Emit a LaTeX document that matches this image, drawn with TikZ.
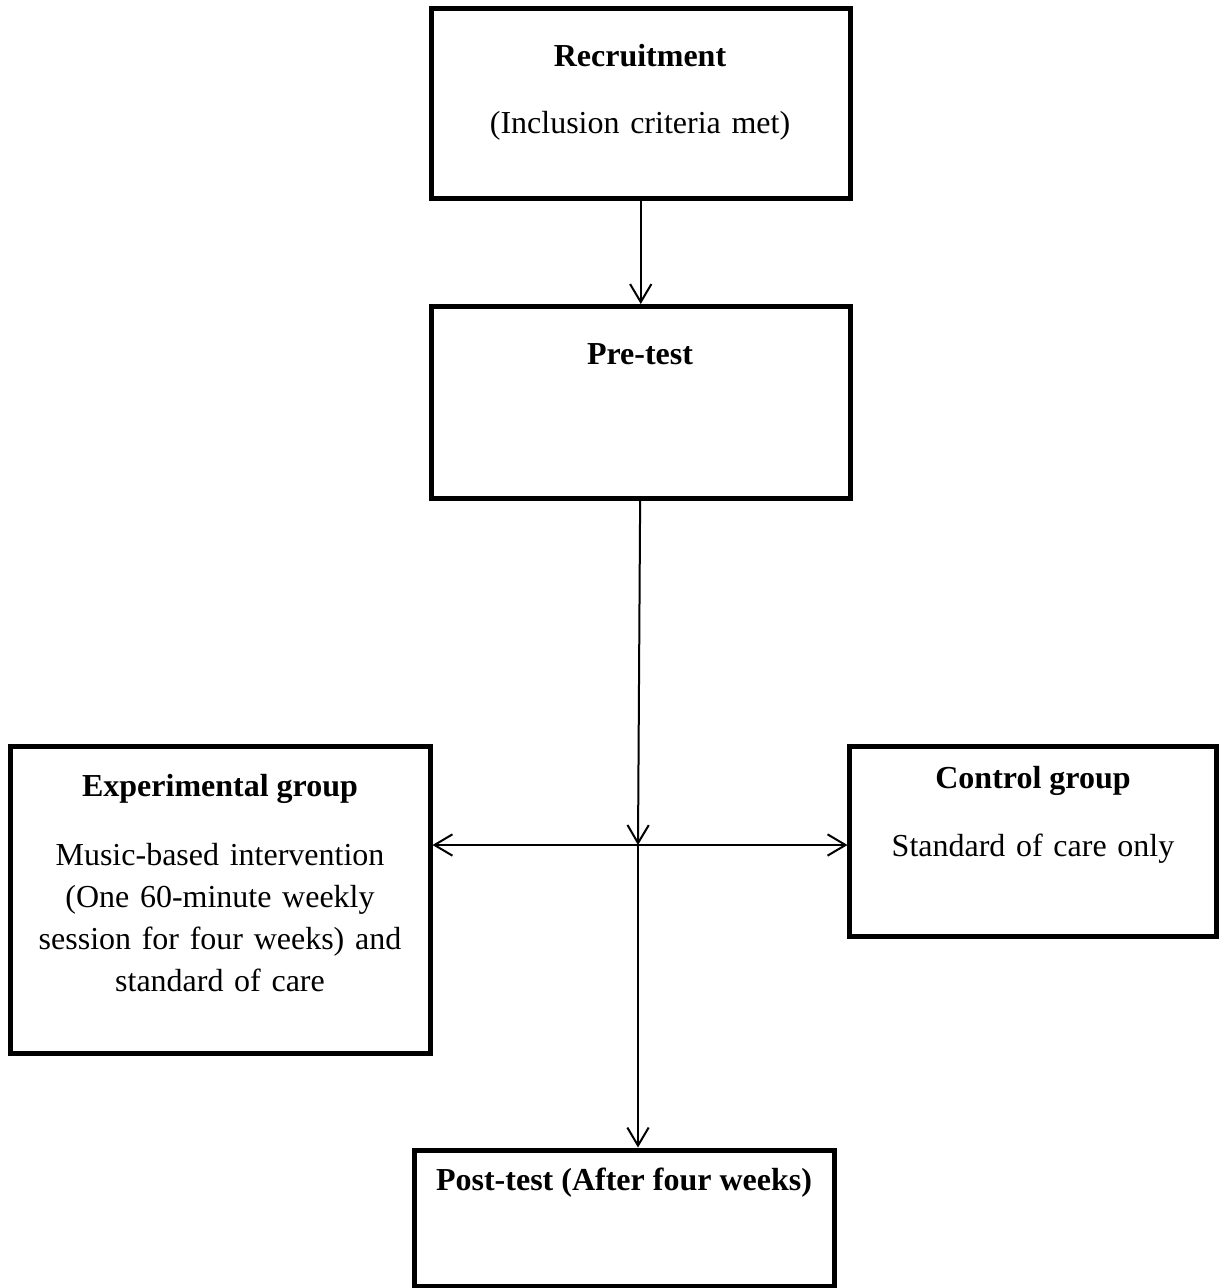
\documentclass[tikz,border=0pt]{standalone}
\usepackage{fontspec}
\setmainfont{Liberation Serif}
\usetikzlibrary{arrows.meta}

\begin{document}
\begin{tikzpicture}[x=0.375pt, y=-0.375pt, >={Straight Barb[length=6.75pt, width=8pt]}]
    % Define styles
    \tikzstyle{stage} = [rectangle, draw, line width=1.875pt, inner sep=0pt]
    \tikzstyle{head} = [anchor=base, font=\fontsize{12}{15.75}\selectfont\bfseries]
    \tikzstyle{body} = [anchor=base, font=\fontsize{12}{15.75}\selectfont, text width=150pt, align=center]
    \tikzstyle{flow} = [->, line width=0.75pt]

    \clip (0,0) rectangle (1220,1288);

    % Recruitment
    \node[stage, minimum width=156.94pt, minimum height=71.25pt] (recruit) at (640.75,103.5) {};
    \node[head] (recruithead) at (640,66.5) {Recruitment};
    \node[body] (recruittext) at (640,133) {(Inclusion criteria met)};

    % Pre-test
    \node[stage, minimum width=156.94pt, minimum height=72pt] (pretest) at (640.75,402.5) {};
    \node[head] (pretesthead) at (640,364) {Pre-test};

    % Experimental group
    \node[stage, minimum width=157.5pt, minimum height=115.125pt] (expgroup) at (220,900) {};
    \node[head] (exphead) at (220,796) {Experimental group};
    \node[body] (exptext) at (220,865) {
        Music-based intervention\\
        (One 60-minute weekly\\
        session for four weeks) and\\
        standard of care
    };

    % Control group
    \node[stage, minimum width=137.44pt, minimum height=71.25pt] (ctlgroup) at (1033.25,841.5) {};
    \node[head] (ctlhead) at (1033,788) {Control group};
    \node[body] (ctltext) at (1033,856) {Standard of care only};

    % Post-test
    \node[stage, minimum width=157.5pt, minimum height=51pt] (posttest) at (624.5,1218) {};
    \node[head] (posthead) at (624,1190) {Post-test (After four weeks)};

    % Arrows
    \coordinate (split) at (638,845);
    \draw[flow] (recruit) -- (pretest);
    \draw[flow] (pretest) -- (split);
    \draw[<->, line width=0.75pt] (split -| expgroup.east) -- (split -| ctlgroup.west);
    \draw[flow] (split) -- (split |- posttest.north);
\end{tikzpicture}
\end{document}
